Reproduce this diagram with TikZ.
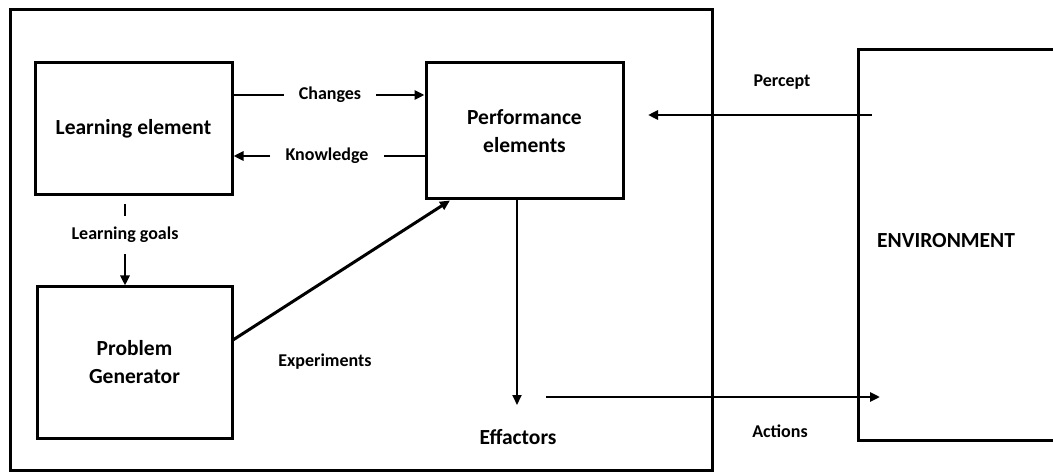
\documentclass[tikz,border=0pt]{standalone}
\usepackage{fontspec}
\setmainfont{Carlito}
\usetikzlibrary{positioning,arrows.meta}

\tikzset{
  box/.style={draw, line width=3pt, minimum width=197pt, align=center,
    font=\fontsize{21.5}{28}\selectfont\bfseries},
  lbl/.style={inner sep=0pt, font=\fontsize{18}{22}\selectfont\bfseries},
  big/.style={lbl, font=\fontsize{21.5}{26}\selectfont\bfseries},
  gap/.style={lbl, inner xsep=15pt},
  arr/.style={line width=2.5pt, -{Triangle[length=10pt,width=9pt]}},
  ln/.style={line width=2.5pt},
}

\begin{document}
\begin{tikzpicture}[x=1pt, y=-1pt]
\clip (0,0) rectangle (1053,473);
\fill[white] (0,0) rectangle (1053,473);
% agent and environment
\node[draw, line width=3pt, minimum width=702pt, minimum height=460pt] (agent) at (361,240) {};
\node[draw, line width=3pt, minimum width=260pt, minimum height=390pt] (env) at (988,245) {};
\node[big, anchor=west] (envtxt) at (877,241) {ENVIRONMENT};
%
\node[box, minimum height=132pt] (learn) at (133.5,129) {Learning element};
\node[box, minimum height=136pt] (perf) at (524.5,131) {Performance\\elements};
\node[box, minimum width=195pt, minimum height=151pt] (prob) at (134.5,362.5) {Problem\\Generator};
%
\node[gap] (chg) at (330,95) {Changes};
\node[gap] (know) at (327,156) {Knowledge};
\node[lbl, inner ysep=11pt] (goals) at (125,235) {Learning goals};
\node[lbl] (expt) at (325,362) {Experiments};
\node[big] (eff) at (518,437) {Effactors};
\node[lbl] (act) at (780,431) {Actions};
\node[lbl] (perc) at (782,82) {Percept};
%
\coordinate (effend) at (517,405);
\coordinate (actstart) at (546,397);
\coordinate (actend) at (880,397);
\coordinate (percstart) at (872,115);
\coordinate (percend) at (648,115);
%
\draw[ln] (learn.east |- chg) -- (chg.west);
\draw[arr] (chg.east) -- (perf.west |- chg);
\draw[ln] (perf.west |- know) -- (know.east);
\draw[arr] (know.west) -- (learn.east |- know);
\draw[ln, shorten <=8pt] (learn.south -| goals) -- (goals.north);
\draw[arr] (goals.south) -- (prob.north -| goals);
\draw[line width=3pt, -{Triangle[length=10pt,width=9pt]}] (prob.13) -- (perf.223);
\draw[line width=2pt, -{Triangle[length=10pt,width=9pt]}] (perf.south -| effend) -- (effend);
\draw[arr] (actstart) -- (actend);
\draw[arr] (percstart) -- (percend);
\end{tikzpicture}
\end{document}
